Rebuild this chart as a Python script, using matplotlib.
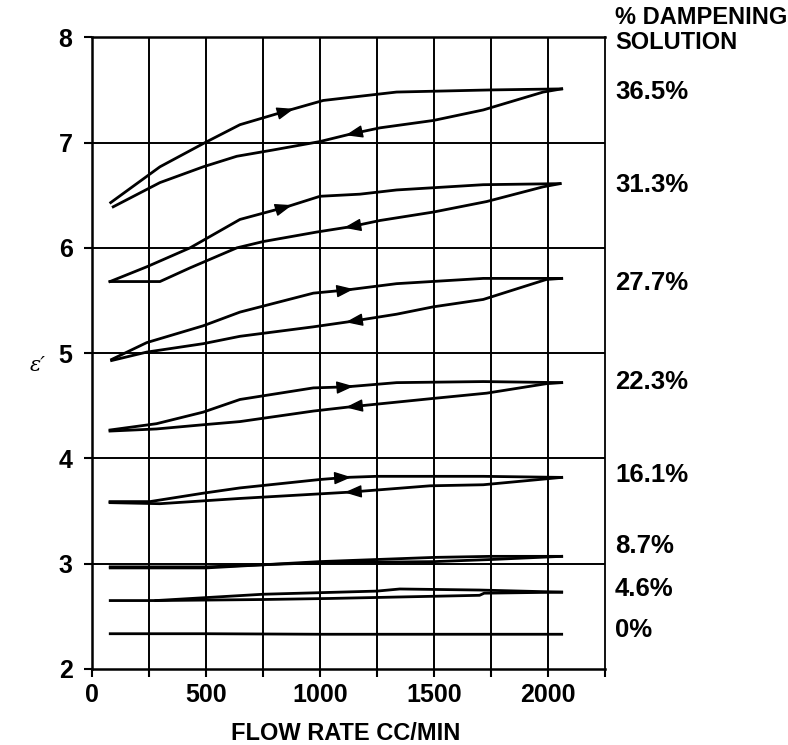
import matplotlib
matplotlib.use("Agg")
import matplotlib.pyplot as plt
import numpy as np

# === Data (flow rate cc/min vs dielectric constant) ===
labels = ["36.5%", "31.3%", "27.7%", "22.3%", "16.1%", "8.7%", "4.6%", "0%"]
label_y = [7.48, 6.60, 5.67, 4.73, 3.84, 3.17, 2.76, 2.37]

# increasing flow (forward) branches
fwd_x = [
    [82, 298, 496, 649, 868, 1014, 1175, 1336, 1746, 2060],
    [79, 240, 430, 649, 854, 1000, 1175, 1336, 1716, 2053],
    [86, 240, 488, 649, 971, 1117, 1336, 1716, 2060],
    [79, 283, 488, 649, 971, 1117, 1336, 1716, 2060],
    [79, 254, 488, 649, 1000, 1117, 1248, 1716, 2060],
    [80, 500, 750, 1000, 1250, 1500, 1750, 2060],
    [280, 750, 1250, 1350, 1700, 2060],
    [80, 500, 1000, 1500, 2060],
]
fwd_y = [
    [6.43, 6.77, 7.00, 7.17, 7.31, 7.40, 7.44, 7.48, 7.50, 7.51],
    [5.68, 5.82, 6.00, 6.27, 6.39, 6.49, 6.51, 6.55, 6.60, 6.61],
    [4.94, 5.10, 5.26, 5.39, 5.57, 5.60, 5.66, 5.71, 5.71],
    [4.27, 4.33, 4.44, 4.56, 4.67, 4.68, 4.72, 4.73, 4.72],
    [3.59, 3.59, 3.67, 3.72, 3.80, 3.82, 3.83, 3.83, 3.82],
    [2.97, 2.97, 2.99, 3.02, 3.04, 3.06, 3.07, 3.07],
    [2.65, 2.71, 2.74, 2.76, 2.75, 2.73],
    [2.335, 2.335, 2.33, 2.33, 2.33],
]

# decreasing flow (return) branches
ret_x = [
    [2060, 1979, 1716, 1497, 1263, 1132, 1000, 795, 635, 488, 298, 93],
    [2053, 1979, 1731, 1497, 1263, 1132, 985, 751, 635, 430, 298, 79],
    [2060, 1993, 1716, 1497, 1336, 1132, 971, 649, 488, 240, 86],
    [2060, 1993, 1731, 1497, 1132, 971, 649, 488, 283, 79],
    [2060, 1716, 1483, 1132, 649, 298, 79],
    [2060, 1750, 1500, 1000, 750, 500, 80],
    [2060, 1720, 1700, 1044, 750, 280, 80],
    [],
]
ret_y = [
    [7.51, 7.48, 7.31, 7.21, 7.14, 7.08, 7.01, 6.93, 6.87, 6.77, 6.62, 6.39],
    [6.61, 6.58, 6.44, 6.34, 6.26, 6.20, 6.15, 6.06, 6.00, 5.81, 5.68, 5.68],
    [5.71, 5.70, 5.51, 5.44, 5.37, 5.30, 5.25, 5.16, 5.09, 5.01, 4.93],
    [4.72, 4.71, 4.62, 4.57, 4.49, 4.45, 4.35, 4.32, 4.28, 4.26],
    [3.82, 3.75, 3.74, 3.68, 3.62, 3.57, 3.58],
    [3.07, 3.04, 3.02, 3.01, 2.99, 2.96, 2.96],
    [2.73, 2.72, 2.70, 2.67, 2.66, 2.65, 2.65],
    [],
]

# where the direction arrows sit (None = no arrow)
fwd_arrow_x = [868, 860, 1130, 1130, 1120, None, None, None]
ret_arrow_x = [1130, 1123, 1130, 1130, 1125, None, None, None]

x_ticks = [0, 250, 500, 750, 1000, 1250, 1500, 1750, 2000, 2250]
x_tick_labels = ["0", "", "500", "", "1000", "", "1500", "", "2000", ""]
y_ticks = [2, 3, 4, 5, 6, 7, 8]

plt.rcParams['font.family'] = ['Liberation Sans', 'DejaVu Sans']

fig = plt.figure(figsize=(7.88, 7.45), dpi=100)
ax = fig.add_axes([92 / 788, 1 - 669 / 745, 513 / 788, (669 - 37.3) / 745])

# === Grid ===
for gx in x_ticks[1:-1]:
    ax.axvline(gx, color='k', lw=1.4, zorder=1)
for gy in y_ticks[1:-1]:
    ax.axhline(gy, color='k', lw=1.4, zorder=1)


def draw_arrow(xs, ys, xa, forward):
    order = np.argsort(xs)
    xs_s = np.array(xs)[order]
    ys_s = np.array(ys)[order]
    d = 35 if forward else -35
    tip = (xa + d / 2, np.interp(xa + d / 2, xs_s, ys_s))
    tail = (xa - d / 2, np.interp(xa - d / 2, xs_s, ys_s))
    ax.annotate('', xy=tip, xytext=tail,
                arrowprops=dict(arrowstyle='-|>,head_length=0.7,head_width=0.26',
                                color='k', lw=1.0, mutation_scale=15,
                                shrinkA=0, shrinkB=0),
                zorder=4)


# === Curves ===
for i in range(len(labels)):
    ax.plot(fwd_x[i], fwd_y[i], color='k', lw=2.0, zorder=3,
            solid_joinstyle='round')
    if ret_x[i]:
        ax.plot(ret_x[i], ret_y[i], color='k', lw=2.0, zorder=3,
                solid_joinstyle='round')
    if fwd_arrow_x[i] is not None:
        draw_arrow(fwd_x[i], fwd_y[i], fwd_arrow_x[i], True)
    if ret_arrow_x[i] is not None:
        draw_arrow(ret_x[i], ret_y[i], ret_arrow_x[i], False)

    ax.text(2294, label_y[i], labels[i], fontsize=18.5, fontweight='bold',
            va='center', ha='left', clip_on=False)

ax.text(2294, 8.19, "% DAMPENING", fontsize=17, fontweight='bold',
        va='center', ha='left', clip_on=False)
ax.text(2294, 7.955, "SOLUTION", fontsize=17, fontweight='bold',
        va='center', ha='left', clip_on=False)

# === Axes formatting ===
ax.set_xlim(0, 2250)
ax.set_ylim(2, 8)
ax.set_xticks(x_ticks)
ax.set_xticklabels(x_tick_labels)
ax.set_yticks(y_ticks)
ax.set_yticklabels([str(v) for v in y_ticks])
ax.tick_params(axis='both', direction='out', length=6, width=1.5,
               labelsize=18, pad=4, color='k')
ax.tick_params(axis='y', pad=8)
for lab in ax.get_xticklabels() + ax.get_yticklabels():
    lab.set_fontweight('bold')
for side in ['left', 'bottom', 'top']:
    ax.spines[side].set_linewidth(1.8)
ax.spines['right'].set_linewidth(1.3)

fig.text(346 / 788, 1 - 733 / 745, "FLOW RATE CC/MIN", fontsize=17,
         fontweight='bold', ha='center', va='center')
fig.text(38 / 788, 1 - 365 / 745, "ε′", fontsize=15, style='italic',
         family='DejaVu Serif', ha='center', va='center')

fig.savefig('out.png', dpi=100)
